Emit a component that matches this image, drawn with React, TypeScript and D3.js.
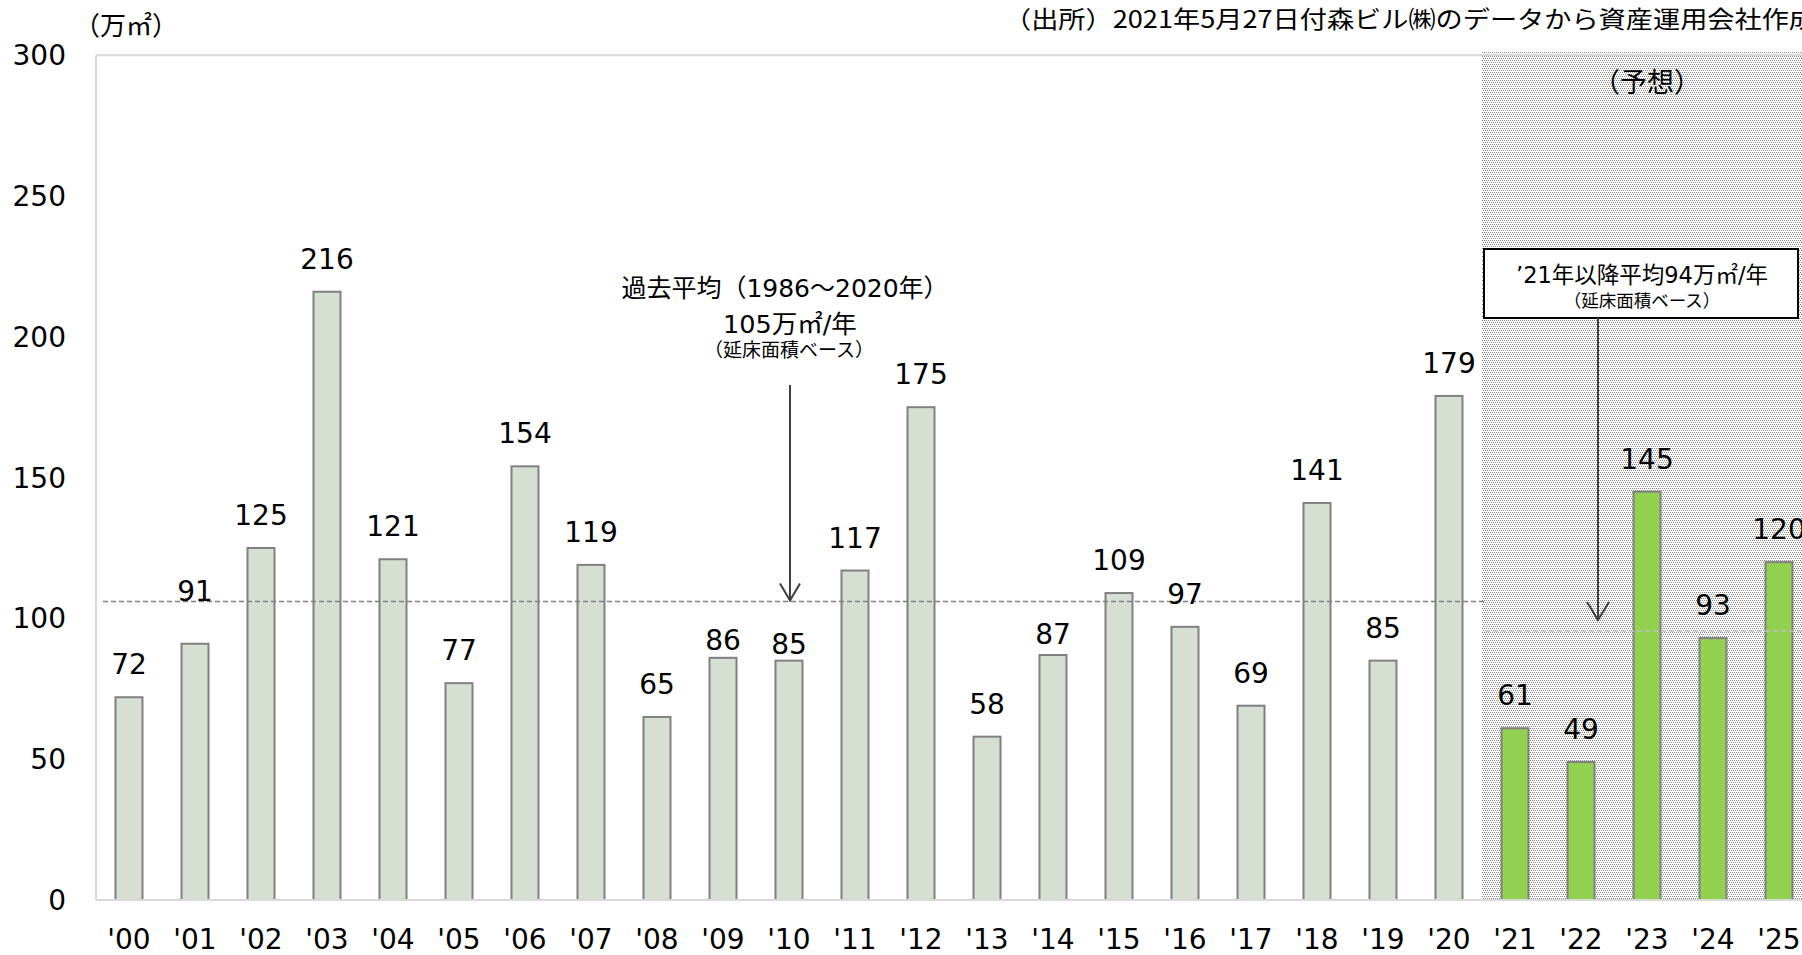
import React from "react";
import * as d3 from "d3";

const categories = ["'00","'01","'02","'03","'04","'05","'06","'07","'08","'09","'10","'11","'12","'13","'14","'15","'16","'17","'18","'19","'20","'21","'22","'23","'24","'25"];
const values = [72,91,125,216,121,77,154,119,65,86,85,117,175,58,87,109,97,69,141,85,179,61,49,145,93,120];
const forecastCategories = ["'21","'22","'23","'24","'25"];
const yTicks = [0,50,100,150,200,250,300];
const pastAverageLine = 106;
const futureAverageLine = 95.5;
// label nudges (px) for labels moved from their default spot
const labelNudge: Record<string, number> = { "'01": -20, "'09": 15, "'10": 16, "'14": 12 };

const W = 1802, H = 955;
const LATIN = "'DejaVu Sans', 'Noto Sans CJK JP', sans-serif";
const CJK = "'Noto Sans CJK JP', sans-serif";

export default function App() {
  const x = d3.scaleBand<string>().domain(categories).range([96, 96 + 66 * categories.length]).paddingInner(0.591).paddingOuter(0.2955);
  const y = d3.scaleLinear().domain([0, 300]).range([900, 55.2]);
  const plotLeft = 96;
  const plotRight = 96 + 66 * categories.length;
  const fcStart = (x(forecastCategories[0]) as number) - (x.step() - x.bandwidth()) / 2;
  const cx = (c: string) => (x(c) as number) + x.bandwidth() / 2;
  const arrowX1 = 790;
  const arrowX2 = 1598;

  return (
    <svg width={W} height={H} style={{ position: "absolute", left: 0, top: 0, background: "#fff" }} fontFamily={LATIN}>
      <defs>
        <pattern id="dots" width={4} height={4} patternUnits="userSpaceOnUse">
          <rect width={4} height={4} fill="#ffffff" />
          <rect x={0} y={0} width={1} height={1} fill="#858585" />
          <rect x={2} y={0} width={1} height={1} fill="#858585" />
          <rect x={1} y={2} width={1} height={1} fill="#858585" />
          <rect x={3} y={2} width={1} height={1} fill="#858585" />
        </pattern>
      </defs>
      {/* forecast shaded region */}
      <rect x={fcStart} y={52} width={plotRight - fcStart} height={900 - 52} fill="url(#dots)" />
      {/* plot frame */}
      <line x1={plotLeft} x2={plotRight} y1={y(300)} y2={y(300)} stroke="#d9d9d9" strokeWidth={2} />
      <line x1={plotLeft} x2={plotLeft} y1={y(300)} y2={y(0)} stroke="#d9d9d9" strokeWidth={2} />
      {/* bars */}
      {categories.map((c, i) => {
        const fc = forecastCategories.includes(c);
        return (
          <rect key={c} x={x(c)} y={y(values[i])} width={x.bandwidth()} height={y(0) - y(values[i])}
            fill={fc ? "#92d050" : "#d5e0d3"} stroke="#808080" strokeWidth={2} />
        );
      })}
      <line x1={plotLeft} x2={plotRight} y1={y(0)} y2={y(0)} stroke="#d9d9d9" strokeWidth={2} />
      {/* average lines */}
      <line x1={103} x2={fcStart + 4} y1={y(pastAverageLine)} y2={y(pastAverageLine)} stroke="#7f7f7f" strokeWidth={1.5} strokeDasharray="5,3" />
      <line x1={fcStart + 3} x2={plotRight} y1={y(futureAverageLine)} y2={y(futureAverageLine)} stroke="#c0c0c0" strokeWidth={1.5} strokeDasharray="5,3" />
      {/* y ticks */}
      {yTicks.map((t) => (
        <text key={t} x={66} y={y(t) + 10} textAnchor="end" fontSize={28} fill="#000">{t}</text>
      ))}
      {/* x ticks */}
      {categories.map((c) => (
        <text key={c} x={cx(c)} y={949} textAnchor="middle" fontSize={28} fill="#000">{c}</text>
      ))}
      {/* value labels */}
      {categories.map((c, i) => (
        <text key={c} x={cx(c)} y={y(values[i]) - 23 + (labelNudge[c] || 0)} textAnchor="middle" fontSize={28} fill="#000">{values[i]}</text>
      ))}
      {/* unit */}
      <text x={74} y={35} fontSize={26} fontFamily={CJK} fill="#000">（万㎡）</text>
      {/* source */}
      <text x={1004} y={28} fontSize={24} fontFamily={CJK} fill="#000" textLength={812} lengthAdjust="spacingAndGlyphs">（出所）2021年5月27日付森ビル㈱のデータから資産運用会社作成</text>
      {/* forecast label */}
      <text x={1647} y={92} textAnchor="middle" fontSize={27} fontFamily={CJK} fill="#000">（予想）</text>
      {/* past average annotation */}
      <text x={785} y={297} textAnchor="middle" fontSize={25} fill="#000">過去平均（1986～2020年）</text>
      <text x={790} y={333} textAnchor="middle" fontSize={25.5} fill="#000">105万㎡/年</text>
      <text x={789} y={357} textAnchor="middle" fontSize={19} fontFamily={CJK} fill="#000">（延床面積ベース）</text>
      <line x1={arrowX1} x2={arrowX1} y1={385} y2={y(pastAverageLine) - 1} stroke="#404040" strokeWidth={2} />
      <polyline points={`${arrowX1 - 10},${y(pastAverageLine) - 18} ${arrowX1},${y(pastAverageLine) - 1} ${arrowX1 + 10},${y(pastAverageLine) - 18}`} fill="none" stroke="#404040" strokeWidth={2} />
      {/* future average box */}
      <rect x={1484} y={249} width={314} height={69} fill="#fff" stroke="#000" strokeWidth={2} />
      <text x={1642} y={283} textAnchor="middle" fontSize={22.5} fill="#000">’21年以降平均94万㎡/年</text>
      <text x={1642} y={307} textAnchor="middle" fontSize={17.5} fontFamily={CJK} fill="#000">（延床面積ベース）</text>
      <line x1={arrowX2} x2={arrowX2} y1={318} y2={y(futureAverageLine) - 11} stroke="#404040" strokeWidth={2} />
      <polyline points={`${arrowX2 - 11},${y(futureAverageLine) - 29} ${arrowX2},${y(futureAverageLine) - 11} ${arrowX2 + 11},${y(futureAverageLine) - 29}`} fill="none" stroke="#404040" strokeWidth={2} />
    </svg>
  );
}
